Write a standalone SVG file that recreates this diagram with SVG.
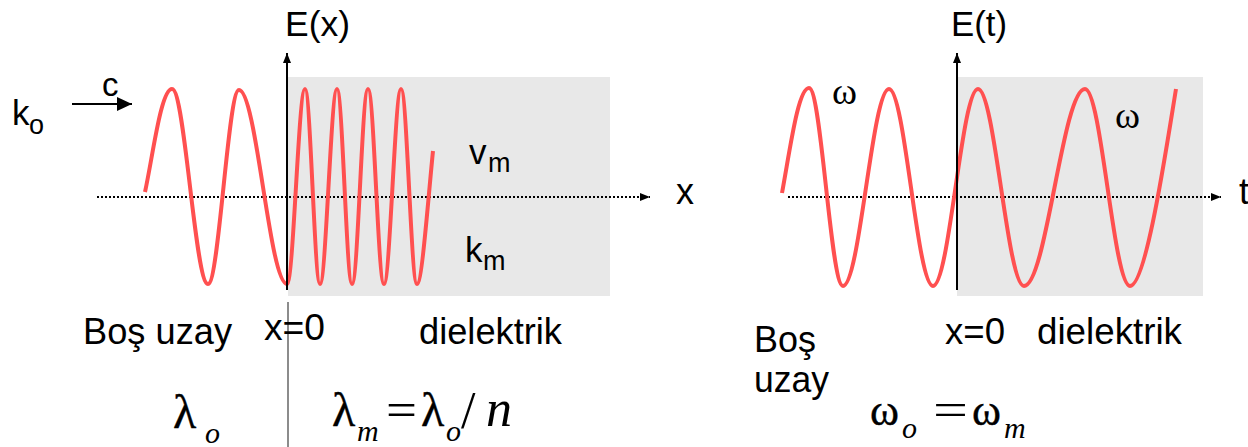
<svg xmlns="http://www.w3.org/2000/svg" width="1248" height="447" viewBox="0 0 1248 447">
<style>
.bg{fill:#e8e8e8;stroke:none}
.wave{fill:none;stroke:#ff5050;stroke-width:4;stroke-linejoin:round;stroke-linecap:butt}
.axis{fill:none;stroke:#000;stroke-width:2}
.dot{fill:none;stroke:#000;stroke-width:2;stroke-dasharray:2 2}
.sep{fill:none;stroke:#8c8c8c;stroke-width:2}
.sans{font-family:"Liberation Sans",Arial,sans-serif;fill:#000}
.serif{font-family:"Liberation Serif","Times New Roman",serif;fill:#000}
.greek{stroke:#000;stroke-width:0.4}
.it{font-style:italic}
</style>
<defs>
<marker id="ah" viewBox="0 0 10 8" refX="10" refY="4" markerWidth="10" markerHeight="8" markerUnits="userSpaceOnUse" orient="auto"><path d="M0,0 L10,4 L0,8 Z" fill="#000"/></marker>
<marker id="ahc" viewBox="0 0 15 14" refX="15" refY="7" markerWidth="15" markerHeight="14" markerUnits="userSpaceOnUse" orient="auto"><path d="M0,0 L15,7 L0,14 Z" fill="#000"/></marker>
</defs>

<g id="left-medium"><rect class="bg" x="288" y="77" width="322" height="219"/></g>
<g id="right-medium"><rect class="bg" x="957" y="77" width="246" height="219"/></g>

<g id="connectors">
<line class="dot" x1="97" y1="197" x2="650" y2="197" marker-end="url(#ah)"/>
<line class="dot" x1="788" y1="197" x2="1221" y2="197" marker-end="url(#ah)"/>
<line class="axis" x1="72" y1="104" x2="132" y2="104" marker-end="url(#ahc)"/>
<line class="sep" x1="288" y1="302" x2="288" y2="447"/>
</g>

<g id="wave-x">
<path class="wave" d="M145,192 C153,155 161,89 172,89 C185,89 195,284 208,284 C219,284 228,90 239,90 C256.5,90 269.5,284 287,284 C293.5,284 298.5,89 305,89 C310.5,89 314.5,284 320,284 C326,284 331,89 337,89 C342.5,89 346.5,284 352,284 C358,284 362,89 368,89 C374,89 378,284 384,284 C390,284 395,89 401,89 C407,89 411,284 417,284 C422,284 428,200 433,151"/>
</g>
<g id="wave-t">
<path class="wave" d="M782,193 C790,150 798,88 809,88 C821.4,88 830.6,286 843,286 C859.7,286 872.3,89 889,89 C905,89 917,286 933,286 C949.4,286 961.6,89 978,89 C994.7,89 1007.3,286 1024,286 C1046.2,286 1062.8,89 1085,89 C1101.4,89 1113.6,286 1130,286 C1146,286 1166,150 1176,89"/>
</g>

<g id="axes">
<line class="axis" x1="287" y1="290" x2="287" y2="53" marker-end="url(#ah)"/>
<line class="axis" x1="957" y1="290" x2="957" y2="53" marker-end="url(#ah)"/>
</g>

<g id="label-Ex"><text class="sans" x="285" y="36" font-size="35" textLength="65" lengthAdjust="spacingAndGlyphs">E(x)</text></g>
<g id="label-Et"><text class="sans" x="951" y="36" font-size="35" textLength="56" lengthAdjust="spacingAndGlyphs">E(t)</text></g>
<g id="label-c"><text class="sans" x="102" y="96" font-size="33">c</text></g>
<g id="label-ko"><text class="sans" x="12" y="125" font-size="35">k</text><text class="sans" x="29" y="134" font-size="27">o</text></g>
<g id="label-vm"><text class="sans" x="469" y="164" font-size="35">v</text><text class="sans" x="488" y="172" font-size="27">m</text></g>
<g id="label-km"><text class="sans" x="465" y="262" font-size="35">k</text><text class="sans" x="483" y="270" font-size="27">m</text></g>
<g id="label-x"><text class="sans" x="676" y="204" font-size="36">x</text></g>
<g id="label-t"><text class="sans" x="1239" y="204" font-size="36">t</text></g>
<g id="label-omega1"><text class="serif" x="832" y="104" font-size="38">ω</text></g>
<g id="label-omega2"><text class="serif" x="1115" y="128" font-size="38">ω</text></g>

<g id="label-bos-left"><text class="sans" x="83" y="344" font-size="36" textLength="149" lengthAdjust="spacingAndGlyphs">Boş uzay</text></g>
<g id="label-x0-left"><text class="sans" x="264" y="340" font-size="36" textLength="61" lengthAdjust="spacingAndGlyphs">x=0</text></g>
<g id="label-diel-left"><text class="sans" x="419" y="344" font-size="36" textLength="143" lengthAdjust="spacingAndGlyphs">dielektrik</text></g>
<g id="label-bos-right"><text class="sans" x="754" y="352" font-size="36" textLength="62" lengthAdjust="spacingAndGlyphs">Boş</text><text class="sans" x="754" y="392" font-size="36" textLength="75" lengthAdjust="spacingAndGlyphs">uzay</text></g>
<g id="label-x0-right"><text class="sans" x="945" y="344" font-size="36" textLength="60" lengthAdjust="spacingAndGlyphs">x=0</text></g>
<g id="label-diel-right"><text class="sans" x="1037" y="344" font-size="36" textLength="145" lengthAdjust="spacingAndGlyphs">dielektrik</text></g>

<g id="formula-lambda-o">
<text class="serif greek" x="173" y="428" font-size="48">λ</text>
<text class="serif it" x="205" y="443" font-size="30">o</text>
</g>
<g id="formula-lambda-m">
<text class="serif greek" x="332" y="426" font-size="48">λ</text>
<text class="serif it" x="357" y="441" font-size="30">m</text>
<text class="serif" x="386" y="426" font-size="48" textLength="31" lengthAdjust="spacingAndGlyphs">=</text>
<text class="serif greek" x="421" y="426" font-size="48">λ</text>
<text class="serif it" x="446" y="441" font-size="30">o</text>
<text class="serif" x="461" y="428" font-size="52">/</text>
<text class="serif it" x="486" y="426" font-size="52">n</text>
</g>
<g id="formula-omega">
<text class="serif greek" x="870" y="425" font-size="44">ω</text>
<text class="serif it" x="902" y="438" font-size="30">o</text>
<text class="serif" x="933" y="425" font-size="46" textLength="35" lengthAdjust="spacingAndGlyphs">=</text>
<text class="serif greek" x="972" y="425" font-size="44">ω</text>
<text class="serif it" x="1004" y="438" font-size="30">m</text>
</g>
</svg>
